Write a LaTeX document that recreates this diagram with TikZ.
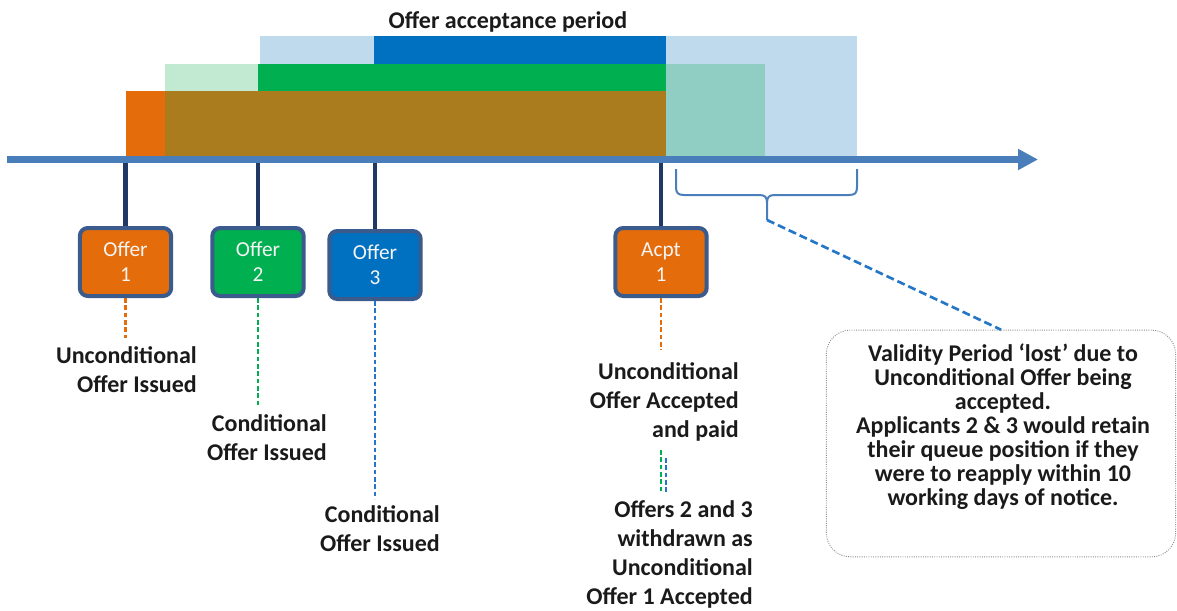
\documentclass[tikz,border=0pt]{standalone}
\usepackage{fontspec}
\setmainfont{Carlito}
\usetikzlibrary{arrows.meta}
\definecolor{axisblue}{HTML}{4A7EBB}
\definecolor{navy}{HTML}{203864}
\definecolor{boxborder}{HTML}{3B5B8C}
\definecolor{borange}{HTML}{E46C0A}
\definecolor{bgreen}{HTML}{00B050}
\definecolor{bblue}{HTML}{0070C0}
\definecolor{lblue}{HTML}{BFD9ED}
\definecolor{lgreen}{HTML}{C2EAD3}
\definecolor{brown}{HTML}{AB7C1E}
\definecolor{teal}{HTML}{90CEC4}
\definecolor{dblue}{HTML}{2477C6}
\definecolor{txt}{HTML}{1A1A1A}
\begin{document}
\begin{tikzpicture}[x=0.75pt,y=-0.75pt,
  offerbox/.style={draw=boxborder, line width=3pt, rounded corners=6pt,
    minimum width=68.5pt, minimum height=51pt, text=white!96!black,
    font=\fontsize{16}{18.75}\selectfont, align=center, inner sep=0pt},
  lbl/.style={font=\bfseries\fontsize{18}{21.75}\selectfont, align=right, inner sep=0pt, text=txt},
  tickline/.style={draw=navy, line width=3.6pt},
  timeline/.style={draw=axisblue, line width=5.3pt, -{Triangle[length=15pt,width=15pt]}},
  ddash/.style={line width=1.6pt, dash pattern=on 3.5pt off 2pt},
  conn/.style={draw=dblue, line width=2pt, dash pattern=on 6pt off 3pt},
  bracestyle/.style={draw=axisblue, line width=1.5pt},
  callbox/.style={draw=gray!90, line width=0.7pt, densely dotted, rounded corners=18pt,
    minimum width=262pt, minimum height=170pt, inner sep=0pt},
  calltxt/.style={font=\bfseries\fontsize{18}{18}\selectfont, align=center, inner sep=0pt, text=txt}
]
\useasboundingbox (0,0) rectangle (1177,610);

% bars
\fill[lblue] (260,36) rectangle (857,156);
\fill[bblue] (374,36) rectangle (666,64);
\fill[lgreen] (165,64) rectangle (258,91);
\fill[bgreen] (258,64) rectangle (666,91);
\fill[teal] (666,64) rectangle (765,156);
\fill[borange] (126,91) rectangle (165,156);
\fill[brown] (165,91) rectangle (666,156);

\node[font=\bfseries\fontsize{18}{21.75}\selectfont, text=txt, inner sep=0pt] (title) at (508,22) {Offer acceptance period};

% boxes
\node[offerbox, fill=borange] (o1) at (125.5,262) {Offer\\1};
\node[offerbox, fill=bgreen] (o2) at (258,262) {Offer\\2};
\node[offerbox, fill=bblue] (o3) at (375,265) {Offer\\3};
\node[offerbox, fill=borange] (a1) at (661,262) {Acpt\\1};

% timeline
\coordinate (axL) at (7,159.5);
\coordinate (axR) at (1038,159.5);
\draw[tickline] (o1.north) -- (o1.north |- axL);
\draw[tickline] (o2.north) -- (o2.north |- axL);
\draw[tickline] (o3.north) -- (o3.north |- axL);
\draw[tickline] (a1.north) -- (a1.north |- axL);
\draw[timeline] (axL) -- (axR);

% labels
\node[lbl, anchor=east] (l1) at (197,370) {Unconditional\\Offer Issued};
\node[lbl, anchor=east] (l2) at (327,437.5) {Conditional\\Offer Issued};
\node[lbl, anchor=east] (l3) at (440,529) {Conditional\\Offer Issued};
\node[lbl, anchor=east] (l4) at (739,402) {Unconditional\\Offer Accepted\\and paid};
\node[lbl, anchor=east] (l5) at (753,554.5) {Offers 2 and 3\\withdrawn as\\Unconditional\\Offer 1 Accepted};

% dashed drops
\coordinate (d1) at (125.5,338);
\coordinate (d2) at (258,406);
\coordinate (d3) at (375,499);
\coordinate (d4) at (661,350);
\draw[ddash, borange] (o1.south) -- (o1.south |- d1);
\draw[ddash, bgreen] (o2.south) -- (o2.south |- d2);
\draw[ddash, dblue] (o3.south) -- (o3.south |- d3);
\draw[ddash, borange] (a1.south) -- (a1.south |- d4);

\coordinate (g1) at (661,450);
\coordinate (g2) at (661,492);
\coordinate (b1) at (666,458);
\coordinate (b2) at (666,492);
\draw[ddash, bgreen] (g1) -- (g2);
\draw[ddash, dblue] (b1) -- (b2);

% brace
\coordinate (bracetip) at (767,220);
\draw[bracestyle] (676,169) -- (676,187) .. controls (676,193) and (678,195) .. (684,195) -- (759,195) .. controls (765,195) and (767,197) .. (767,203) -- (bracetip);
\draw[bracestyle] (857,169) -- (857,187) .. controls (857,193) and (855,195) .. (849,195) -- (775,195) .. controls (769,195) and (767,197) .. (767,203);

% callout
\node[callbox] (callout) at (1001,443.5) {};
\node[calltxt] (calltext) at (1003,426.5) {Validity Period ‘lost’ due to\\Unconditional Offer being\\accepted.\\Applicants 2 \& 3 would retain\\their queue position if they\\were to reapply within 10\\working days of notice.};
\draw[conn] (bracetip) -- (callout.north);
\end{tikzpicture}
\end{document}
